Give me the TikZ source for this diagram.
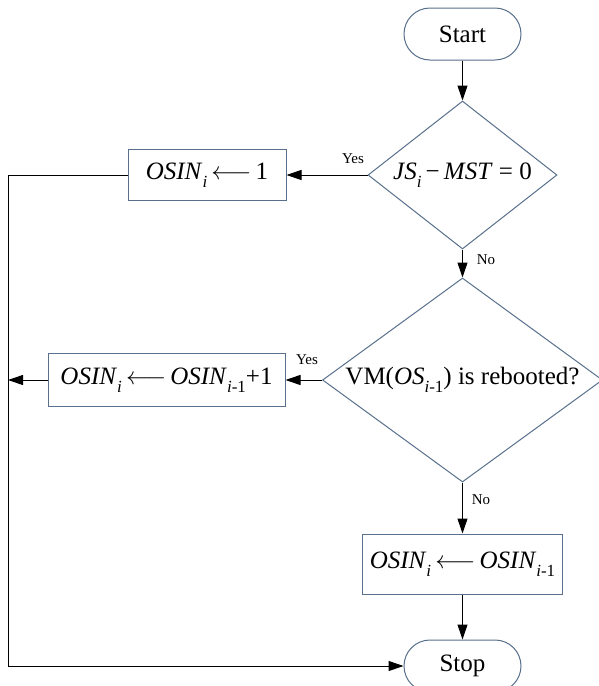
\documentclass[tikz,border=0pt]{standalone}
\usepackage{fontspec}
\setmainfont{Liberation Serif}
\usetikzlibrary{shapes.geometric,arrows.meta}
\definecolor{edgeblue}{RGB}{88,112,140}
% lowered, smaller index for the variable names
\newcommand{\lowidx}[1]{\raisebox{-0.3em}{\fontsize{17}{17}\selectfont #1}}
\begin{document}
\begin{tikzpicture}[x=1pt,y=-1pt,
  every node/.style={font=\fontsize{25}{30}\selectfont},
  shapeline/.style={draw=edgeblue, line width=1pt, fill=white},
  procbox/.style={shapeline, rectangle, inner sep=0pt},
  term/.style={shapeline, rectangle, rounded corners=26pt, minimum width=117pt, minimum height=52pt, inner sep=0pt},
  decision/.style={shapeline, diamond, inner sep=0pt},
  flow/.style={draw=black, line width=1pt, line join=miter, -{Triangle[length=15pt,width=10pt]}},
  tag/.style={font=\fontsize{15}{18}\selectfont}]
\useasboundingbox (0,0) rectangle (599,686);

% nodes
\node[term] (start) at (462.5,34) {Start};
\node[decision, aspect=1.277, minimum width=189pt, minimum height=148pt] (d1) at (462.5,175)
  {\textit{JS}\lowidx{\textit{i}}\,−\,\textit{MST} = 0};
\node[procbox, minimum width=158pt, minimum height=51pt] (b1) at (207,175)
  {\textit{OSIN}\lowidx{\textit{i}}\,$\longleftarrow$\,1};
\node[decision, aspect=1.37, minimum width=280pt, minimum height=204pt] (d2) at (462.5,380)
  {VM(\textit{OS}\lowidx{\textit{i}-1}) is rebooted?};
\node[procbox, minimum width=237pt, minimum height=53pt] (b2) at (166.5,380)
  {\textit{OSIN}\lowidx{\textit{i}}\,$\longleftarrow$\,\textit{OSIN}\lowidx{\textit{i}-1}+1};
\node[procbox, minimum width=200pt, minimum height=60pt] (b3) at (462.5,564)
  {\textit{OSIN}\lowidx{\textit{i}}\,$\longleftarrow$\,\textit{OSIN}\lowidx{\textit{i}-1}};
\node[term] (stop) at (462.5,666) {Stop};

% branch labels
\node[tag] (yes1) at (353,159) {Yes};
\node[tag] (no1) at (486,260) {No};
\node[tag] (yes2) at (307,360) {Yes};
\node[tag] (no2) at (481,500) {No};

% return rail on the left
\coordinate (railtop) at (8,175);
\coordinate (railmid) at (8,380);
\coordinate (railbot) at (8,666);

% connectors
\draw[flow] (start.south) -- (d1.north);
\draw[flow] (d1.west) -- (b1.east);
\draw[flow] (d1.south) -- (d2.north);
\draw[flow] (d2.west) -- (b2.east);
\draw[flow] (d2.south) -- (b3.north);
\draw[flow] (b3.south) -- (stop.north);
\draw[flow] (b2.west) -- (railmid);
\draw[flow] (b1.west) -- (railtop) -- (railbot) -- (stop.west);
\end{tikzpicture}
\end{document}
